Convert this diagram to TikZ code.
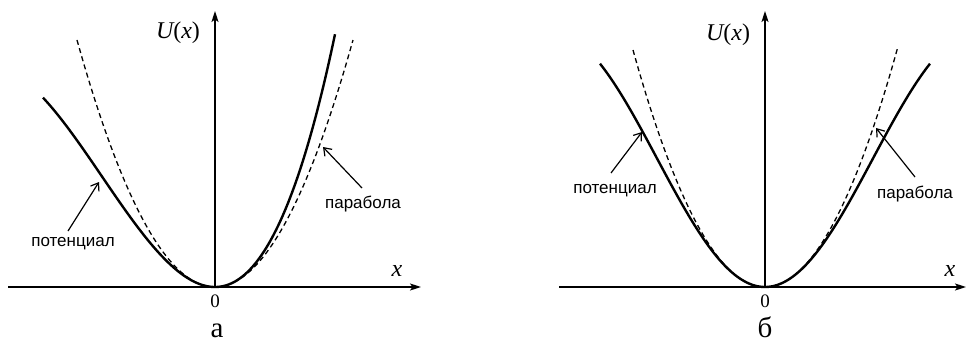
\documentclass[tikz,border=0pt]{standalone}
\usepackage{fontspec}
\setmainfont{Liberation Serif}
\newfontfamily\lsans{Liberation Sans}
\usetikzlibrary{arrows.meta}
\begin{document}
\begin{tikzpicture}[x=1pt,y=-1pt,
 axis/.style={line width=1.4pt,-{Stealth[length=11pt,width=7pt,inset=2.5pt]}},
 pot/.style={line width=2.4pt},
 para/.style={line width=1.3pt,dash pattern=on 5pt off 3.5pt},
 ptr/.style={line width=1.2pt,-{Straight Barb[length=7pt,width=10pt]}},
 lbl/.style={font=\lsans\fontsize{17}{17}\selectfont,inner sep=0pt},
 mth/.style={font=\fontsize{24}{24}\selectfont,inner sep=0pt},
 zero/.style={font=\fontsize{19}{19}\selectfont,inner sep=0pt},
 figcap/.style={font=\fontsize{29}{29}\selectfont,inner sep=0pt,anchor=base}]
\path[use as bounding box] (0,0) rectangle (966,342);
% ---------- left plot (a)
\coordinate (O1) at (215,287);
\coordinate (xs1) at (8,287);
\coordinate (xe1) at (421,287);
\coordinate (ye1) at (215,11);
\draw[para] plot[domain=-138:138,samples=120] ({215+\x},{287-247*(\x/138)^2});
\draw[pot] plot[domain=-172:120,samples=150] ({215+\x},{287-247*(\x/138)^2*(1+0.00295*\x)});
\draw[axis] (xs1) -- (xe1);
\draw[axis] (O1) -- (ye1);
\node[mth] (U1) at (178,33) {{\itshape U}({\itshape x})};
\node[mth] (x1) at (397,271) {\itshape x};
\node[zero] (z1) at (215,301) {0};
\node[figcap] (c1) at (217,337) {а};
\node[lbl] (pot1) at (73,244) {потенциал};
\node[lbl] (par1) at (363,204) {парабола};
\coordinate (ps1) at (68,231);
\coordinate (pt1) at (99,182);
\coordinate (qs1) at (362,188);
\coordinate (qt1) at (323,147);
\draw[ptr] (ps1) -- (pt1);
\draw[ptr] (qs1) -- (qt1);
% ---------- right plot (b)
\coordinate (O2) at (765,287);
\coordinate (xs2) at (559,287);
\coordinate (xe2) at (966,287);
\coordinate (ye2) at (765,11);
\draw[para] plot[domain=-132:133,samples=120] ({765+\x},{287-237*(\x/132)^2});
\draw[pot] plot[domain=-165:165,samples=150] ({765+\x},{287-128.5*(1-cos(0.8337*\x))});
\draw[axis] (xs2) -- (xe2);
\draw[axis] (O2) -- (ye2);
\node[mth] (U2) at (728,35) {{\itshape U}({\itshape x})};
\node[mth] (x2) at (950,271) {\itshape x};
\node[zero] (z2) at (765,301) {0};
\node[figcap] (c2) at (765,337) {б};
\node[lbl] (pot2) at (615,191) {потенциал};
\node[lbl] (par2) at (915,194) {парабола};
\coordinate (ps2) at (611,173);
\coordinate (pt2) at (642,132);
\coordinate (qs2) at (915,177);
\coordinate (qt2) at (876,128);
\draw[ptr] (ps2) -- (pt2);
\draw[ptr] (qs2) -- (qt2);
\end{tikzpicture}
\end{document}
